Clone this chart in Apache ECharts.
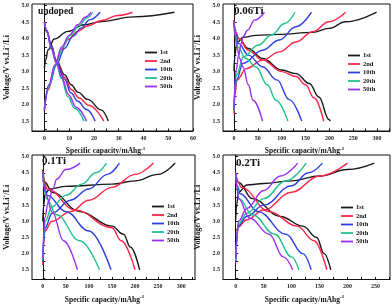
<!DOCTYPE html>
<html><head><meta charset="utf-8">
<script src="https://cdn.jsdelivr.net/npm/echarts@6/dist/echarts.min.js"></script>
<style>html,body{margin:0;padding:0;background:#fff}#c{width:392px;height:305px}</style>
</head><body><div id="c"></div>
<script>
const cycles = ['1st','2nd','10th','20th','50th'];
const panelNames = ['undoped','0.06Ti','0.1Ti','0.2Ti'];
const yTicks = [1.5,2.0,2.5,3.0,3.5,4.0,4.5,5.0];
const xTicks1 = [0,10,20,30,40,50,60];
const xTicks2 = [0,50,100,150,200,250,300];
const xTicks3 = [0,50,100,150,200,250,300];
const xTicks4 = [0,50,100,150,200,250];

// undoped
const undopedCharge = [
  [[0,3.1],[0.5,3.35],[1.5,3.66],[4,3.99],[9.5,4.22],[16,4.42],[23,4.52],[36,4.66],[52.5,4.8]],
  [[0,1.84],[1.5,2.44],[4.2,3.15],[6.8,3.66],[9.5,3.97],[13.5,4.22],[17.5,4.39],[23,4.55],[29.6,4.7],[35.5,4.8]],
  [[0,1.84],[2.1,2.6],[4.8,3.2],[8.2,3.71],[11.5,4.07],[14.9,4.32],[18.2,4.57],[22.5,4.8]],
  [[0,1.9],[2,2.6],[4.5,3.2],[7.5,3.75],[10.5,4.1],[14,4.4],[17,4.62],[19.5,4.8]],
  [[0,1.84],[1.8,2.6],[4.2,3.2],[7,3.75],[10,4.1],[13.5,4.42],[16.5,4.65],[18.8,4.8]]
];
const undopedDischarge = [
  [[0,4.45],[1,4.2],[2.8,3.8],[4.8,3.35],[8.2,2.9],[10.8,2.6],[13.5,2.38],[17.5,2.16],[22.9,1.84],[25.8,1.5]],
  [[0,4.5],[1,4.25],[2.8,3.78],[4.8,3.3],[8.2,2.82],[11,2.45],[14,2.2],[18,1.98],[24,1.5]],
  [[0,4.5],[1,4.25],[2.8,3.76],[4.8,3.28],[8,2.78],[10.8,2.35],[13.5,2.1],[17,1.85],[20.5,1.5]],
  [[0,4.5],[1,4.22],[2.8,3.68],[4.8,3.26],[6.8,2.8],[9.5,2.24],[12.2,1.89],[16,1.5]],
  [[0,4.5],[1,4.22],[2.8,3.7],[4.8,3.28],[7,2.82],[9.8,2.3],[12.8,1.92],[17,1.5]]
];
// 0.06Ti
const ti006Charge = [
  [[0,3.02],[2,3.5],[5,3.8],[8.3,3.9],[18.8,4.04],[46.5,4.1],[95,4.13],[165,4.19],[199,4.31],[234,4.51],[299,4.8]],
  [[0,1.72],[2,2.3],[6,2.74],[25.7,3.09],[60,3.35],[95,3.6],[130,3.9],[165,4.21],[199,4.51],[234,4.8]],
  [[0,1.82],[2,2.4],[4.9,2.74],[18.8,3.25],[60,3.65],[95,3.96],[130,4.36],[162.5,4.8]],
  [[0,1.8],[2,2.5],[5,2.9],[20,3.45],[50,3.8],[80,4.12],[105,4.45],[128,4.8]],
  [[0,1.85],[1.5,2.5],[4,3.0],[10,3.5],[15,3.85],[19,4.06],[29,4.26],[43,4.56],[64,4.8]]
];
const ti006Discharge = [
  [[0,4.55],[3,4.2],[10,4.0],[30,3.7],[60,3.4],[100,3.05],[130,2.94],[158,2.64],[178,2.23],[199,1.55],[202,1.5]],
  [[0,4.55],[3,4.2],[10,4.0],[30,3.65],[60,3.35],[100,3.0],[130,2.85],[150,2.6],[168,2.2],[188,1.5]],
  [[0,4.5],[3,4.15],[10,3.85],[30,3.5],[60,3.15],[90,2.75],[116,2.15],[142,1.5]],
  [[0,4.5],[3,4.1],[8,3.75],[25,3.4],[46,3.14],[70,2.6],[88,2.13],[113,1.5]],
  [[0,4.5],[2,4.1],[6,3.75],[12,3.4],[19,3.14],[30,2.6],[40,2.13],[60,1.5]]
];
// 0.1Ti
const ti01Charge = [
  [[0,3.0],[2,3.5],[5,3.85],[15,4.0],[50,4.08],[150,4.15],[200,4.25],[250,4.45],[287,4.8]],
  [[0,1.65],[2,2.3],[4,2.7],[20,3.0],[60,3.3],[100,3.65],[150,4.05],[200,4.45],[240,4.8]],
  [[0,1.75],[2,2.4],[5,2.8],[20,3.25],[60,3.65],[100,4.0],[140,4.45],[166,4.8]],
  [[0,1.8],[2,2.5],[5,3.0],[20,3.45],[50,3.8],[85,4.15],[115,4.5],[138,4.8]],
  [[0,1.85],[1.5,2.5],[4,3.1],[12,3.6],[22,4.0],[30,4.3],[50,4.6],[81,4.8]]
];
const ti01Discharge = [
  [[0,4.6],[5,4.2],[20,3.9],[80,3.3],[150,2.85],[175,2.6],[190,2.2],[210,1.5]],
  [[0,4.55],[3,4.2],[10,4.0],[70,3.35],[150,2.8],[170,2.4],[200,1.5]],
  [[0,4.5],[3,4.1],[10,3.8],[50,3.3],[100,2.7],[148,1.5]],
  [[0,4.5],[3,4.05],[8,3.7],[30,3.2],[80,2.4],[123,1.5]],
  [[0,4.5],[2,4.15],[5,3.9],[20,3.3],[45,2.4],[75,1.5]]
];
// 0.2Ti
const ti02Charge = [
  [[0,3.05],[2,3.55],[5,3.9],[20,4.12],[50,4.17],[100,4.25],[150,4.4],[200,4.6],[248,4.8]],
  [[0,1.7],[1.5,2.3],[3,2.8],[20,3.05],[50,3.35],[100,3.9],[150,4.4],[200,4.8]],
  [[0,1.75],[2,2.4],[4,2.85],[20,3.15],[50,3.5],[100,4.1],[130,4.5],[155,4.8]],
  [[0,1.8],[2,2.45],[4,2.9],[20,3.25],[50,3.7],[90,4.25],[126,4.8]],
  [[0,1.85],[2,2.5],[5,3.0],[20,3.4],[50,3.95],[80,4.4],[111,4.8]]
];
const ti02Discharge = [
  [[0,4.5],[5,4.2],[30,3.7],[80,3.15],[120,2.85],[145,2.5],[158,2.0],[170,1.5]],
  [[0,4.5],[3,4.25],[10,4.05],[60,3.3],[110,2.85],[140,2.4],[163,1.5]],
  [[0,4.5],[3,4.1],[8,3.85],[40,3.3],[90,2.6],[120,2.0],[135,1.5]],
  [[0,4.5],[2,4.1],[6,3.7],[30,3.2],[70,2.6],[100,1.9],[113,1.5]],
  [[0,4.5],[2,4.05],[5,3.7],[25,3.1],[60,2.6],[85,1.9],[102,1.5]]
];

const colors = ['#1a1a1a','#ff2448','#2c3ee0','#1fc08f','#9a30f2'];
const FONT = 'Liberation Serif';
const charges = [undopedCharge, ti006Charge, ti01Charge, ti02Charge];
const discharges = [undopedDischarge, ti006Discharge, ti01Discharge, ti02Discharge];
const xTicks = [xTicks1, xTicks2, xTicks3, xTicks4];
const xMinor = [[5,15,25,35,45,55],[25,75,125,175,225,275,325],[25,75,125,175,225,275,325],[25,75,125,175,225,275]];

const grids = [
  {left:31, top:4, width:162, height:127},
  {left:223, top:4, width:167, height:127},
  {left:29, top:155, width:166, height:125.5},
  {left:223, top:155, width:167, height:126}
];
const xr = [[-5,60],[-23,327],[-23.4,330],[-22.7,276]];
const legendPos = [[145,49],[348,52],[152,203],[341,204]];
const titlePos = [[38,7],[234,6],[42,156],[236,158]];
const titleSize = [9.5,11,11,11];
const xNamePad = [[0,14,0,0],[0,4,0,0],[0,18,0,0],[0,4,0,0]];

const yMinor = [1.25,1.75,2.25,2.75,3.25,3.75,4.25,4.75];
const sup = {fontSize:5, fontWeight:'bold', fontFamily:FONT, color:'#111', verticalAlign:'top', padding:[0,0,6,0]};
const nameStyle = {fontSize:7.5, fontWeight:'bold', fontFamily:FONT, color:'#111', rich:{s:sup}};
const lblStyle = {fontSize:6, fontWeight:'bold', fontFamily:FONT, color:'#222'};

const option = {
  animation:false,
  backgroundColor:'#fff',
  grid: grids.map(g => Object.assign({show:true, borderColor:'#111', borderWidth:1, backgroundColor:'transparent', containLabel:false}, g)),
  xAxis: grids.map((g,i) => ({
    type:'value', gridIndex:i, min:xr[i][0], max:xr[i][1],
    axisLine:{show:true, lineStyle:{color:'#111', width:1}},
    axisTick:{show:true, inside:true, length:2.5, customValues:xTicks[i].concat(xMinor[i].filter(v=>v<xr[i][1])), lineStyle:{color:'#111'}},
    axisLabel:{customValues:xTicks[i], margin:4, ...lblStyle},
    splitLine:{show:false},
    name:'Specific capacity/mAhg{s|-1}', nameLocation:'middle', nameGap:15,
    nameTextStyle: Object.assign({}, nameStyle, {padding:xNamePad[i]})
  })),
  yAxis: grids.map((g,i) => ({
    type:'value', gridIndex:i, min:1.2, max:5.05,
    axisLine:{show:true, lineStyle:{color:'#111', width:1}},
    axisTick:{show:true, inside:true, length:2.5, customValues:yTicks.concat(yMinor), lineStyle:{color:'#111'}},
    axisLabel:{customValues:yTicks, margin:3, formatter:v=>v.toFixed(1), ...lblStyle},
    splitLine:{show:false},
    name:'Voltage/V vs.Li{s|+}/Li', nameLocation:'middle', nameGap:20, nameRotate:90,
    nameTextStyle: Object.assign({}, nameStyle, {fontSize:8})
  })),
  title: panelNames.map((t,i) => ({
    text:t, left:titlePos[i][0], top:titlePos[i][1], padding:0,
    textStyle:{fontSize:titleSize[i], fontWeight:'bold', fontFamily:FONT, color:'#111'}
  })),
  legend: legendPos.map(p => ({
    data:cycles, orient:'vertical', left:p[0], top:p[1], padding:0,
    icon:'rect', itemWidth:12, itemHeight:1.8, itemGap:1.5,
    textStyle:{fontSize:6.5, fontWeight:'bold', fontFamily:FONT, color:'#111', padding:[0,0,0,-2]},
    selectedMode:false
  })),
  series: []
};
for (let p = 0; p < 4; p++) {
  for (let c = 0; c < 5; c++) {
    [charges[p][c], discharges[p][c]].forEach(d => {
      option.series.push({
        type:'line', name:cycles[c], xAxisIndex:p, yAxisIndex:p,
        data:d, showSymbol:false, symbol:'none', smooth:0.4, smoothMonotone:'x',
        lineStyle:{color:colors[c], width:1.4}, itemStyle:{color:colors[c]}, z:2+c
      });
    });
  }
}
const chart = echarts.init(document.getElementById('c'), null, {renderer:'canvas'});
chart.setOption(option);
</script></body></html>
